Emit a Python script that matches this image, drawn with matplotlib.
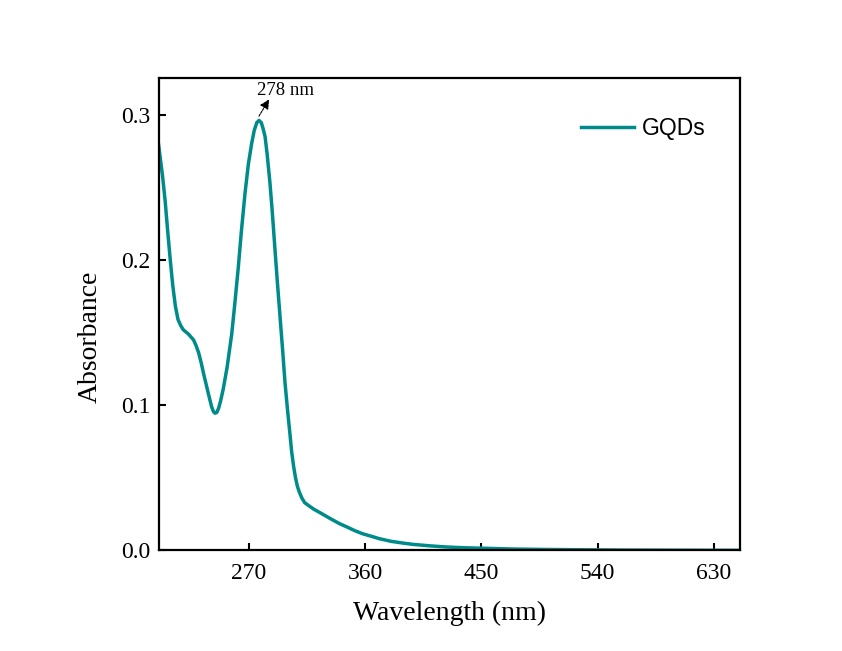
import matplotlib
matplotlib.use("Agg")
import matplotlib.pyplot as plt

# Absorbance spectrum
wavelength = [200, 203, 205, 207, 209, 211, 213, 215, 217, 219, 221, 223, 225,
              227, 229, 231, 233, 235, 238.5, 241, 242.5, 243.7, 245, 246.5,
              248, 250, 253, 256.6, 259, 261.7, 264, 266.9, 269.5, 272, 274,
              276, 277.7, 279.5, 281, 282.4, 284, 286.2, 288, 290.1, 292, 294,
              296, 297.9, 300, 301.7, 303, 304.5, 306, 307.5, 309, 311, 313,
              316, 320, 327, 333, 340, 346, 352, 358, 365, 371, 380, 390, 397,
              410, 423, 436, 449, 475, 500, 526, 560, 600, 650]
absorbance = [0.279, 0.258, 0.241, 0.220, 0.200, 0.182, 0.168, 0.159, 0.155,
              0.152, 0.1505, 0.149, 0.147, 0.145, 0.141, 0.136, 0.129, 0.121,
              0.108, 0.099, 0.0955, 0.0945, 0.095, 0.098, 0.103, 0.111, 0.126,
              0.149, 0.170, 0.195, 0.219, 0.246, 0.266, 0.280, 0.289, 0.2945,
              0.296, 0.2945, 0.290, 0.285, 0.273, 0.253, 0.233, 0.207, 0.184,
              0.161, 0.138, 0.115, 0.095, 0.080, 0.068, 0.058, 0.050, 0.044,
              0.040, 0.036, 0.033, 0.031, 0.0285, 0.025, 0.0219, 0.0185,
              0.0161, 0.0136, 0.0115, 0.0097, 0.0081, 0.0063, 0.0050, 0.0042,
              0.0032, 0.0024, 0.0019, 0.0016, 0.0010, 0.0007, 0.0005, 0.0003,
              0.0002, 0.0001]

x_ticks = [270, 360, 450, 540, 630]
y_ticks = [0.0, 0.1, 0.2, 0.3]
peak_x = 277.7
peak_y = 0.2985

serif = ["Liberation Serif", "DejaVu Serif"]

fig = plt.figure(figsize=(8.42, 6.51), dpi=100)
ax = fig.add_axes([0.1884, 0.1544, 0.6902, 0.7253])

ax.plot(wavelength, absorbance, color="#008B8B", linewidth=2.5, label="GQDs",
        solid_joinstyle="round")

ax.set_xlim(200, 650)
ax.set_ylim(0, 0.325)
ax.set_xticks(x_ticks)
ax.set_yticks(y_ticks)
ax.set_yticklabels(["0.0", "0.1", "0.2", "0.3"])

for s in ax.spines.values():
    s.set_linewidth(1.6)

ax.tick_params(axis="both", direction="in", length=5, width=1.5,
               labelsize=17)
ax.tick_params(axis="x", pad=9)
ax.tick_params(axis="y", pad=6)
for lab in ax.get_xticklabels() + ax.get_yticklabels():
    lab.set_family(serif)

ax.set_xlabel("Wavelength (nm)", fontsize=20, family=serif, labelpad=12)
ax.set_ylabel("Absorbance", fontsize=20, family=serif)
ax.yaxis.set_label_coords(-0.096, 0.453)

# Peak annotation
ax.annotate("278 nm", xy=(285, 0.3095), xytext=(298, 0.3165),
            ha="center", va="center", fontsize=13.5, family=serif)
ax.annotate("", xy=(285.5, 0.3105), xytext=(peak_x, peak_y + 0.0005),
            arrowprops=dict(arrowstyle="-|>", color="black", lw=0.8,
                            linestyle=(0, (2, 1)), mutation_scale=14,
                            shrinkA=0, shrinkB=0))

leg = ax.legend(loc="upper right", frameon=False,
                prop={"family": ["Liberation Sans", "DejaVu Sans"], "size": 16.5},
                handlelength=2.3, handletextpad=0.35,
                bbox_to_anchor=(0.977, 0.962))

fig.savefig("out.png", dpi=100)
